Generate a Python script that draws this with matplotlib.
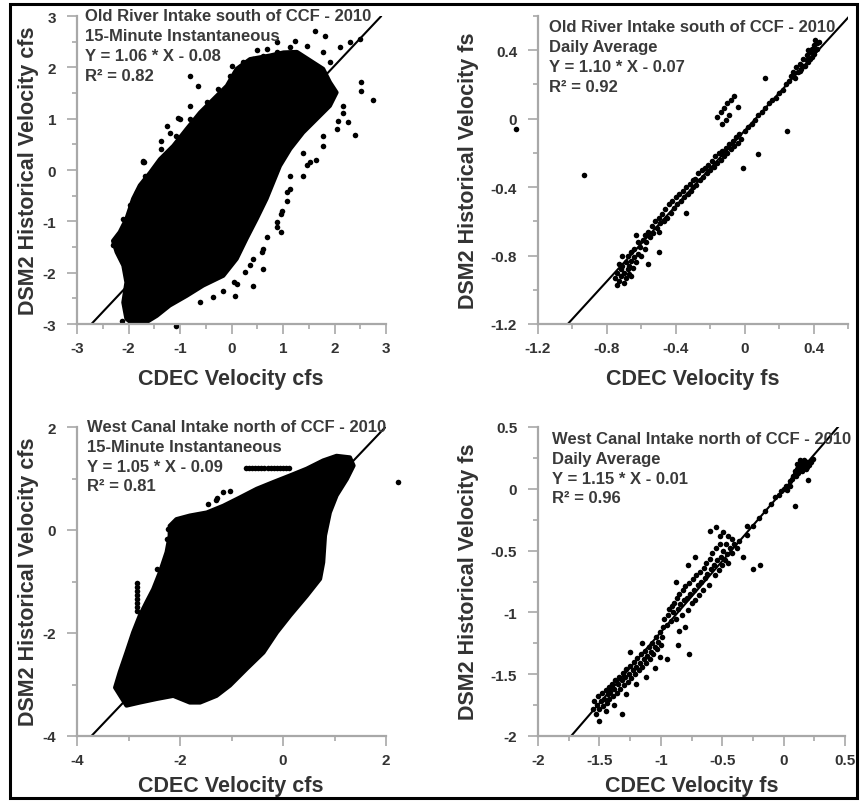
import matplotlib
matplotlib.use("Agg")
import matplotlib.pyplot as plt
from matplotlib.patches import Rectangle

plt.rcParams['font.family'] = ['Liberation Sans', 'DejaVu Sans']
plt.rcParams['font.weight'] = 'bold'
plt.rcParams['axes.unicode_minus'] = False

W, H = 860, 803

# ---------------- Panel 1: Old River, 15-minute (dense cloud outline + sparse points)
p1_cloud_x = [-1.84, -2.04, -2.10, -2.04, -2.10, -2.23, -2.30, -2.17, -2.04, -1.91, -1.78, -1.58,
              -1.39, -1.13, -0.87, -0.61, -0.35, -0.09, 0.10, 0.36, 0.75, 1.01, 1.27, 1.78, 1.91,
              2.04, 1.91, 1.65, 1.39, 1.14, 0.94, 0.81, 0.68, 0.49, 0.29, 0.10, -0.16, -0.55,
              -0.87, -1.20, -1.45, -1.71]
p1_cloud_y = [-3.06, -2.90, -2.58, -2.19, -1.86, -1.60, -1.38, -1.21, -0.95, -0.56, -0.30, -0.05,
              0.21, 0.47, 0.80, 1.12, 1.38, 1.64, 1.97, 2.16, 2.23, 2.29, 2.30, 1.97, 1.71,
              1.51, 1.25, 0.99, 0.73, 0.41, 0.08, -0.24, -0.56, -0.95, -1.34, -1.73, -2.06, -2.25,
              -2.45, -2.64, -2.84, -3.00]
p1_pts_x = [-0.81, -0.65, -0.81, -1.03, -1.36, -1.69, -1.36, 2.75, 2.51, 2.51, 2.40, 2.27, 2.07,
            1.65, 1.46, 1.07, 0.99, 0.97, 0.62, 0.42, 0.10, 0.07, -1.07, -2.13, 1.82, 1.62, 2.30,
            2.11, 2.50, 1.23, 0.68, 0.42, 0.49, 0.88, 0.00, -1.71, -1.97, -2.07, 0.88, 0.62, 0.36,
            1.14, 1.39, 1.78, 2.17, -1.26, -1.45,
            -1.71, -1.68, -1.84, -1.97, -2.10, -2.20, -2.30, -1.45, -1.26, -1.07, -0.81, -0.48,
            -0.26, -0.03, -1.00, -1.20,
            1.14, 1.07, 0.97, 0.88, 0.68, 0.59, 0.42, 0.26, 0.04, -0.16, -0.35, -0.61, 1.39, 1.52,
            1.78, 2.04, 2.17,
            0.88, 1.14, 1.46, 1.78, 1.91, 0.23, 0.62]
p1_pts_y = [1.83, 1.63, 1.24, 1.01, 0.40, 0.16, 0.57, 1.36, 1.53, 1.72, 0.68, 0.93, 0.96,
            0.20, 0.09, -0.43, -0.79, -1.21, -1.93, -2.25, -2.22, -2.46, -3.04, -2.94, 2.62, 2.71, 2.50,
            2.39, 2.55, 2.52, 2.36, 2.16, 2.33, 2.49, 2.03, 0.18, -0.82, -1.08, -1.02, -1.54, -1.86,
            -0.11, 0.34, 0.67, 1.25, 0.86, -0.04,
            0.15, -0.11, -0.43, -0.69, -0.95, -1.28, -1.47, -0.11, 0.28, 0.67, 0.99, 1.32,
            1.58, 1.84, 0.99, 0.73,
            -0.37, -0.60, -0.86, -1.12, -1.31, -1.60, -1.73, -1.99, -2.19, -2.35, -2.48, -2.58, -0.11, 0.15,
            0.47, 0.80, 1.12,
            2.29, 2.39, 2.42, 2.29, 2.10, 2.10, 2.23]
p1_line_x = [-2.72, 2.90]
p1_line_y = [-3.00, 2.99]

# ---------------- Panel 2: Old River, daily average
p2_x = [-0.75, -0.74, -0.73, -0.72, -0.72, -0.71, -0.70, -0.70, -0.69, -0.69, -0.68, -0.68, -0.67,
        -0.67, -0.66, -0.66, -0.65, -0.64, -0.64, -0.63, -0.62, -0.61, -0.60, -0.73, -0.71, -0.74,
        -0.66, -0.62,
        -0.59, -0.58, -0.57, -0.56, -0.55, -0.54, -0.53, -0.52, -0.51, -0.50, -0.50, -0.49, -0.48,
        -0.47, -0.46, -0.45, -0.44, -0.43, -0.42, -0.41, -0.40, -0.39, -0.38, -0.37, -0.36, -0.35,
        -0.34, -0.33, -0.32, -0.31, -0.30, -0.30, -0.29, -0.28, -0.27, -0.26, -0.25, -0.24, -0.23,
        -0.22, -0.21, -0.20, -0.19, -0.18, -0.17, -0.16, -0.15, -0.14, -0.13, -0.12, -0.11, -0.10,
        -0.09, -0.08, -0.07, -0.06, -0.05, -0.04, -0.03, -0.02, 0.00, 0.02, 0.04, 0.06, 0.08, 0.10,
        0.12, 0.14, 0.16, 0.18, 0.20, 0.22, 0.24, 0.26, 0.27, 0.28, 0.29, 0.30, 0.31, 0.32, 0.33,
        0.34, 0.35, 0.36, 0.37, 0.38, 0.38, 0.39, 0.40, 0.40, 0.41, 0.42, 0.42, 0.43, 0.36, 0.34,
        0.32, 0.39, 0.37, 0.41,
        -0.16, -0.14, -0.12, -0.10, -0.08, -0.06, -0.04, -0.11, -0.09, -0.13,
        -1.33, -0.93, 0.245, 0.08, 0.12, -0.56, -0.50, -0.34, -0.01, -0.63, -0.58]
p2_y = [-0.93, -0.90, -0.95, -0.88, -0.92, -0.86, -0.90, -0.96, -0.84, -0.93, -0.88, -0.80, -0.86,
        -0.91, -0.83, -0.78, -0.87, -0.81, -0.76, -0.84, -0.79, -0.75, -0.80, -0.85, -0.80, -0.97,
        -0.92, -0.72,
        -0.71, -0.68, -0.72, -0.66, -0.69, -0.63, -0.67, -0.60, -0.64, -0.58, -0.66, -0.61, -0.56,
        -0.60, -0.53, -0.58, -0.50, -0.55, -0.48, -0.52, -0.46, -0.50, -0.44, -0.48, -0.42, -0.46,
        -0.40, -0.44, -0.38, -0.42, -0.36, -0.40, -0.35, -0.39, -0.32, -0.36, -0.30, -0.34, -0.29,
        -0.32, -0.27, -0.30, -0.25, -0.28, -0.22, -0.26, -0.20, -0.24, -0.19, -0.22, -0.17, -0.20,
        -0.15, -0.18, -0.13, -0.16, -0.11, -0.14, -0.09, -0.12, -0.07, -0.05, -0.03, -0.01, 0.02, 0.04,
        0.06, 0.09, 0.11, 0.12, 0.15, 0.17, 0.20, 0.22, 0.25, 0.27, 0.24, 0.30, 0.27, 0.32, 0.29,
        0.35, 0.31, 0.37, 0.33, 0.39, 0.35, 0.41, 0.38, 0.43, 0.40, 0.44, 0.41, 0.45, 0.34, 0.31,
        0.28, 0.36, 0.40, 0.46,
        0.01, 0.04, 0.06, 0.09, 0.11, 0.13, 0.07, -0.01, 0.02, -0.03,
        -0.06, -0.33, -0.07, -0.205, 0.24, -0.85, -0.78, -0.55, -0.29, -0.68, -0.76]
p2_line_x = [-1.027, 0.60]
p2_line_y = [-1.20, 0.59]

# ---------------- Panel 3: West Canal, 15-minute
p3_cloud_x = [-3.26, -3.17, -3.04, -2.91, -2.78, -2.65, -2.52, -2.39, -2.26, -2.20, -2.20, -2.07,
              -1.81, -1.48, -1.16, -0.84, -0.51, -0.19, 0.14, 0.46, 0.78, 1.04, 1.30, 1.37, 1.24,
              1.04, 0.91, 0.815, 0.78, 0.72, 0.46, 0.14, -0.12, -0.38, -0.71, -1.03, -1.29,
              -1.61, -1.81, -2.13, -2.45, -2.78, -3.04]
p3_cloud_y = [-3.06, -2.76, -2.38, -1.99, -1.66, -1.40, -1.15, -0.82, -0.43, -0.11, 0.08, 0.21,
              0.28, 0.34, 0.47, 0.63, 0.80, 0.93, 1.06, 1.19, 1.35, 1.44, 1.41, 1.25, 0.99,
              0.67, 0.34, -0.11, -0.63, -0.95, -1.28, -1.66, -1.99, -2.38, -2.70, -3.02, -3.22,
              -3.35, -3.35, -3.22, -3.28, -3.35, -3.41]
p3_pts_x = [-0.72, -0.66, -0.60, -0.54, -0.48, -0.42, -0.36, -0.30, -0.24, -0.18, -0.12, -0.06,
            0.00, 0.06, 0.12,
            -2.84, -2.84, -2.84, -2.84, -2.84, -2.84, -2.84, -2.84,
            2.24, -1.16, -1.03, -2.45, -1.45, -1.30,
            -2.39, -2.26, -2.23, -2.58, -2.78, -2.91, -3.10, -3.20, -1.29,
            0.85, 0.78, 0.72, 0.69, 0.39, 0.07, -0.19, -0.45, -0.77, -1.48]
p3_pts_y = [1.20, 1.20, 1.21, 1.20, 1.20, 1.21, 1.20, 1.20, 1.21, 1.20, 1.20, 1.20,
            1.21, 1.20, 1.20,
            -1.02, -1.10, -1.18, -1.26, -1.34, -1.42, -1.50, -1.58,
            0.93, 0.73, 0.76, -0.76, 0.50, 0.58,
            -1.02, -0.17, 0.02, -1.47, -1.86, -2.18, -2.63, -2.96, 0.63,
            0.34, 0.08, -0.30, -0.76, -1.15, -1.53, -1.86, -2.25, -2.63, -3.15]
p3_line_x = [-3.72, 1.99]
p3_line_y = [-4.00, 2.00]

# ---------------- Panel 4: West Canal, daily average
p4_x = [-1.55, -1.54, -1.53, -1.52, -1.51, -1.50, -1.49, -1.48, -1.47, -1.46, -1.45, -1.44, -1.43,
        -1.42, -1.42, -1.41, -1.40, -1.39, -1.38, -1.37, -1.36, -1.35, -1.34, -1.33, -1.32, -1.31,
        -1.30, -1.29, -1.28, -1.27, -1.26, -1.25, -1.24, -1.23, -1.22, -1.21, -1.20, -1.19, -1.18,
        -1.17, -1.16, -1.15, -1.14, -1.13, -1.12, -1.11, -1.10, -1.09, -1.08, -1.07, -1.06, -1.05,
        -1.04, -1.03, -1.02, -1.01, -1.00, -0.99, -0.98, -0.97,
        -1.50, -1.32, -1.45, -1.38, -1.28, -1.20, -1.12, -1.05, -1.25, -1.15, -1.01, -0.95,
        -0.95, -0.94, -0.93, -0.92, -0.91, -0.90, -0.89, -0.88, -0.87, -0.86, -0.85, -0.84, -0.83,
        -0.82, -0.81, -0.80, -0.79, -0.78, -0.77, -0.76, -0.75, -0.74, -0.73, -0.72, -0.71, -0.70,
        -0.69, -0.68, -0.67, -0.66, -0.65, -0.64, -0.63, -0.62, -0.61, -0.60, -0.59, -0.58, -0.57,
        -0.56, -0.55, -0.54, -0.53, -0.52, -0.51, -0.50, -0.49, -0.48, -0.47, -0.46, -0.45, -0.44,
        -0.42, -0.40, -0.38, -0.36,
        -0.55, -0.60, -0.49, -0.30, -0.52, -0.45, -0.42, -0.33, -0.25, -0.19, -0.77, -0.86, -0.80,
        -0.85, -0.72, -0.78, -0.88,
        -0.30, -0.25, -0.20, -0.15, -0.10, -0.07, -0.04, -0.02, 0.00, 0.02,
        0.05, 0.07, 0.08, 0.09, 0.10, 0.10, 0.11, 0.12, 0.12, 0.13, 0.13, 0.14, 0.14, 0.15, 0.15,
        0.16, 0.16, 0.17, 0.17, 0.18, 0.18, 0.19, 0.19, 0.20, 0.21, 0.22, 0.11, 0.13, 0.09, 0.20,
        0.09, 0.05, 0.03, 0.24]
p4_y = [-1.78, -1.72, -1.82, -1.75, -1.68, -1.78, -1.72, -1.65, -1.76, -1.70, -1.63, -1.73, -1.66,
        -1.60, -1.70, -1.64, -1.58, -1.68, -1.62, -1.55, -1.65, -1.58, -1.52, -1.62, -1.55, -1.49,
        -1.59, -1.52, -1.46, -1.56, -1.50, -1.43, -1.53, -1.47, -1.40, -1.50, -1.44, -1.37, -1.47,
        -1.41, -1.34, -1.44, -1.38, -1.31, -1.41, -1.35, -1.28, -1.38, -1.32, -1.25, -1.34, -1.28,
        -1.20, -1.30, -1.24, -1.16, -1.26, -1.20, -1.12, -1.05,
        -1.88, -1.82, -1.80, -1.75, -1.66, -1.58, -1.52, -1.45, -1.32, -1.25, -1.36, -1.38,
        -1.10, -1.02, -0.97, -1.07, -0.95, -1.00, -0.92, -1.05, -0.88, -0.97, -0.85, -0.93, -1.02,
        -0.82, -0.90, -0.79, -0.88, -0.98, -0.76, -0.85, -0.92, -0.73, -0.82, -0.90, -0.70, -0.78,
        -0.86, -0.67, -0.75, -0.82, -0.64, -0.72, -0.60, -0.69, -0.78, -0.57, -0.65, -0.52, -0.62,
        -0.70, -0.48, -0.58, -0.66, -0.45, -0.55, -0.62, -0.50, -0.58, -0.45, -0.53, -0.60, -0.48,
        -0.52, -0.45, -0.48, -0.42,
        -0.31, -0.34, -0.35, -0.30, -0.38, -0.38, -0.41, -0.55, -0.65, -0.62, -1.34, -1.26, -1.12,
        -1.15, -0.55, -0.62, -0.75,
        -0.37, -0.30, -0.24, -0.18, -0.12, -0.07, -0.05, -0.02, 0.00, 0.02,
        0.06, 0.08, 0.10, 0.12, 0.14, 0.10, 0.16, 0.13, 0.18, 0.20, 0.15, 0.17, 0.22, 0.19, 0.14,
        0.21, 0.17, 0.23, 0.19, 0.20, 0.16, 0.22, 0.18, 0.21, 0.19, 0.22, 0.20, 0.23, 0.14, 0.07,
        -0.14, 0.02, -0.01, 0.24]
p4_line_x = [-1.73, 0.443]
p4_line_y = [-2.00, 0.50]

# ---------------- Texts and ticks
p1_text = ["Old River Intake south of CCF - 2010", "15-Minute Instantaneous",
           "Y = 1.06 * X - 0.08", "R\u00b2 = 0.82"]
p2_text = ["Old River Intake south of CCF - 2010", "Daily Average",
           "Y = 1.10 * X - 0.07", "R\u00b2 = 0.92"]
p3_text = ["West Canal Intake north of CCF - 2010", "15-Minute Instantaneous",
           "Y = 1.05 * X - 0.09", "R\u00b2 = 0.81"]
p4_text = ["West Canal Intake north of CCF - 2010", "Daily Average",
           "Y = 1.15 * X - 0.01", "R\u00b2 = 0.96"]

ylab_cfs = "DSM2 Historical Velocity cfs"
xlab_cfs = "CDEC Velocity cfs"
ylab_fs = "DSM2 Historical Velocity fs"
xlab_fs = "CDEC Velocity fs"

p1_ticks = [-3, -2, -1, 0, 1, 2, 3]
p1_ticklabels = ["-3", "-2", "-1", "0", "1", "2", "3"]
p1_minor = [-2.5, -1.5, -0.5, 0.5, 1.5, 2.5]
p2_ticks = [-1.2, -0.8, -0.4, 0, 0.4]
p2_ticklabels = ["-1.2", "-0.8", "-0.4", "0", "0.4"]
p2_minor = [-1.0, -0.6, -0.2, 0.2, 0.6]
p3_ticks = [-4, -2, 0, 2]
p3_ticklabels = ["-4", "-2", "0", "2"]
p3_minor = [-3, -1, 1]
p4_ticks = [-2, -1.5, -1, -0.5, 0, 0.5]
p4_ticklabels = ["-2", "-1.5", "-1", "-0.5", "0", "0.5"]
p4_minor = [-1.75, -1.25, -0.75, -0.25, 0.25]

fig = plt.figure(figsize=(W / 100, H / 100), dpi=100)


def rect(l, r, t, b):
    return [l / W, 1 - b / H, (r - l) / W, (b - t) / H]


GRAY = '#a8a8a8'
TXT = '#333333'


def style(ax, lim, ticks, labels, minor):
    ax.set_xlim(lim)
    ax.set_ylim(lim)
    for s in ['top', 'right']:
        ax.spines[s].set_visible(False)
    for s in ['left', 'bottom']:
        ax.spines[s].set_color(GRAY)
        ax.spines[s].set_linewidth(1.6)
    ax.set_xticks(ticks)
    ax.set_xticklabels(labels)
    ax.set_yticks(ticks)
    ax.set_yticklabels(labels)
    ax.set_xticks(minor, minor=True)
    ax.set_yticks(minor, minor=True)
    ax.tick_params(which='major', direction='out', length=7, width=1.2, color=GRAY,
                   labelsize=11, labelcolor=TXT)
    ax.tick_params(which='major', axis='x', pad=5)
    ax.tick_params(which='major', axis='y', pad=8)
    ax.tick_params(which='minor', direction='out', length=3.5, width=1.2, color=GRAY)
    for lbl in ax.get_xticklabels() + ax.get_yticklabels():
        lbl.set_fontweight('bold')


def texts(lines, x, baselines):
    for s, b in zip(lines, baselines):
        fig.text(x / W, 1 - b / H, s, fontsize=12, fontweight='bold', color='#3a3a3a',
                 ha='left', va='baseline')


MS = 16

ax1 = fig.add_axes(rect(77, 386, 17, 325))
style(ax1, (-3, 3), p1_ticks, p1_ticklabels, p1_minor)
ax1.fill(p1_cloud_x, p1_cloud_y, color='black', lw=3, joinstyle='round')
ax1.scatter(p1_pts_x, p1_pts_y, s=MS, c='black', linewidths=0, clip_on=False)
ax1.plot(p1_line_x, p1_line_y, color='black', lw=1.5)

ax2 = fig.add_axes(rect(538, 848, 17, 325))
style(ax2, (-1.2, 0.6), p2_ticks, p2_ticklabels, p2_minor)
ax2.scatter(p2_x, p2_y, s=MS, c='black', linewidths=0, clip_on=False)
ax2.plot(p2_line_x, p2_line_y, color='black', lw=1.5)

ax3 = fig.add_axes(rect(77, 386, 428, 737))
style(ax3, (-4, 2), p3_ticks, p3_ticklabels, p3_minor)
ax3.fill(p3_cloud_x, p3_cloud_y, color='black', lw=3, joinstyle='round')
ax3.scatter(p3_pts_x, p3_pts_y, s=MS, c='black', linewidths=0, clip_on=False)
ax3.plot(p3_line_x, p3_line_y, color='black', lw=1.5)

ax4 = fig.add_axes(rect(538, 845, 428, 737))
style(ax4, (-2, 0.5), p4_ticks, p4_ticklabels, p4_minor)
ax4.scatter(p4_x, p4_y, s=MS, c='black', linewidths=0, clip_on=False)
ax4.plot(p4_line_x, p4_line_y, color='black', lw=1.5)

texts(p1_text, 85, [21, 41, 61, 81])
texts(p2_text, 549, [32, 52, 72, 92])
texts(p3_text, 87, [432, 452, 472, 491])
texts(p4_text, 552, [444, 464, 484, 503])

LAB = dict(fontsize=15.5, fontweight='bold', color=TXT, ha='center', va='center')
fig.text(29 / W, 1 - 171 / H, ylab_cfs, rotation=90, **LAB)
fig.text(231 / W, 1 - 380 / H, xlab_cfs, **LAB)
fig.text(469 / W, 1 - 171 / H, ylab_fs, rotation=90, **LAB)
fig.text(693 / W, 1 - 380 / H, xlab_fs, **LAB)
fig.text(29 / W, 1 - 582 / H, ylab_cfs, rotation=90, **LAB)
fig.text(231 / W, 1 - 787 / H, xlab_cfs, **LAB)
fig.text(469 / W, 1 - 582 / H, ylab_fs, rotation=90, **LAB)
fig.text(692 / W, 1 - 787 / H, xlab_fs, **LAB)

fig.patches.append(Rectangle((10 / W, 1 - 799 / H), (857 - 10) / W, (799 - 5) / H,
                             transform=fig.transFigure, fill=False, lw=2.2, ec='black',
                             zorder=10))

fig.savefig('out.png', dpi=100)
